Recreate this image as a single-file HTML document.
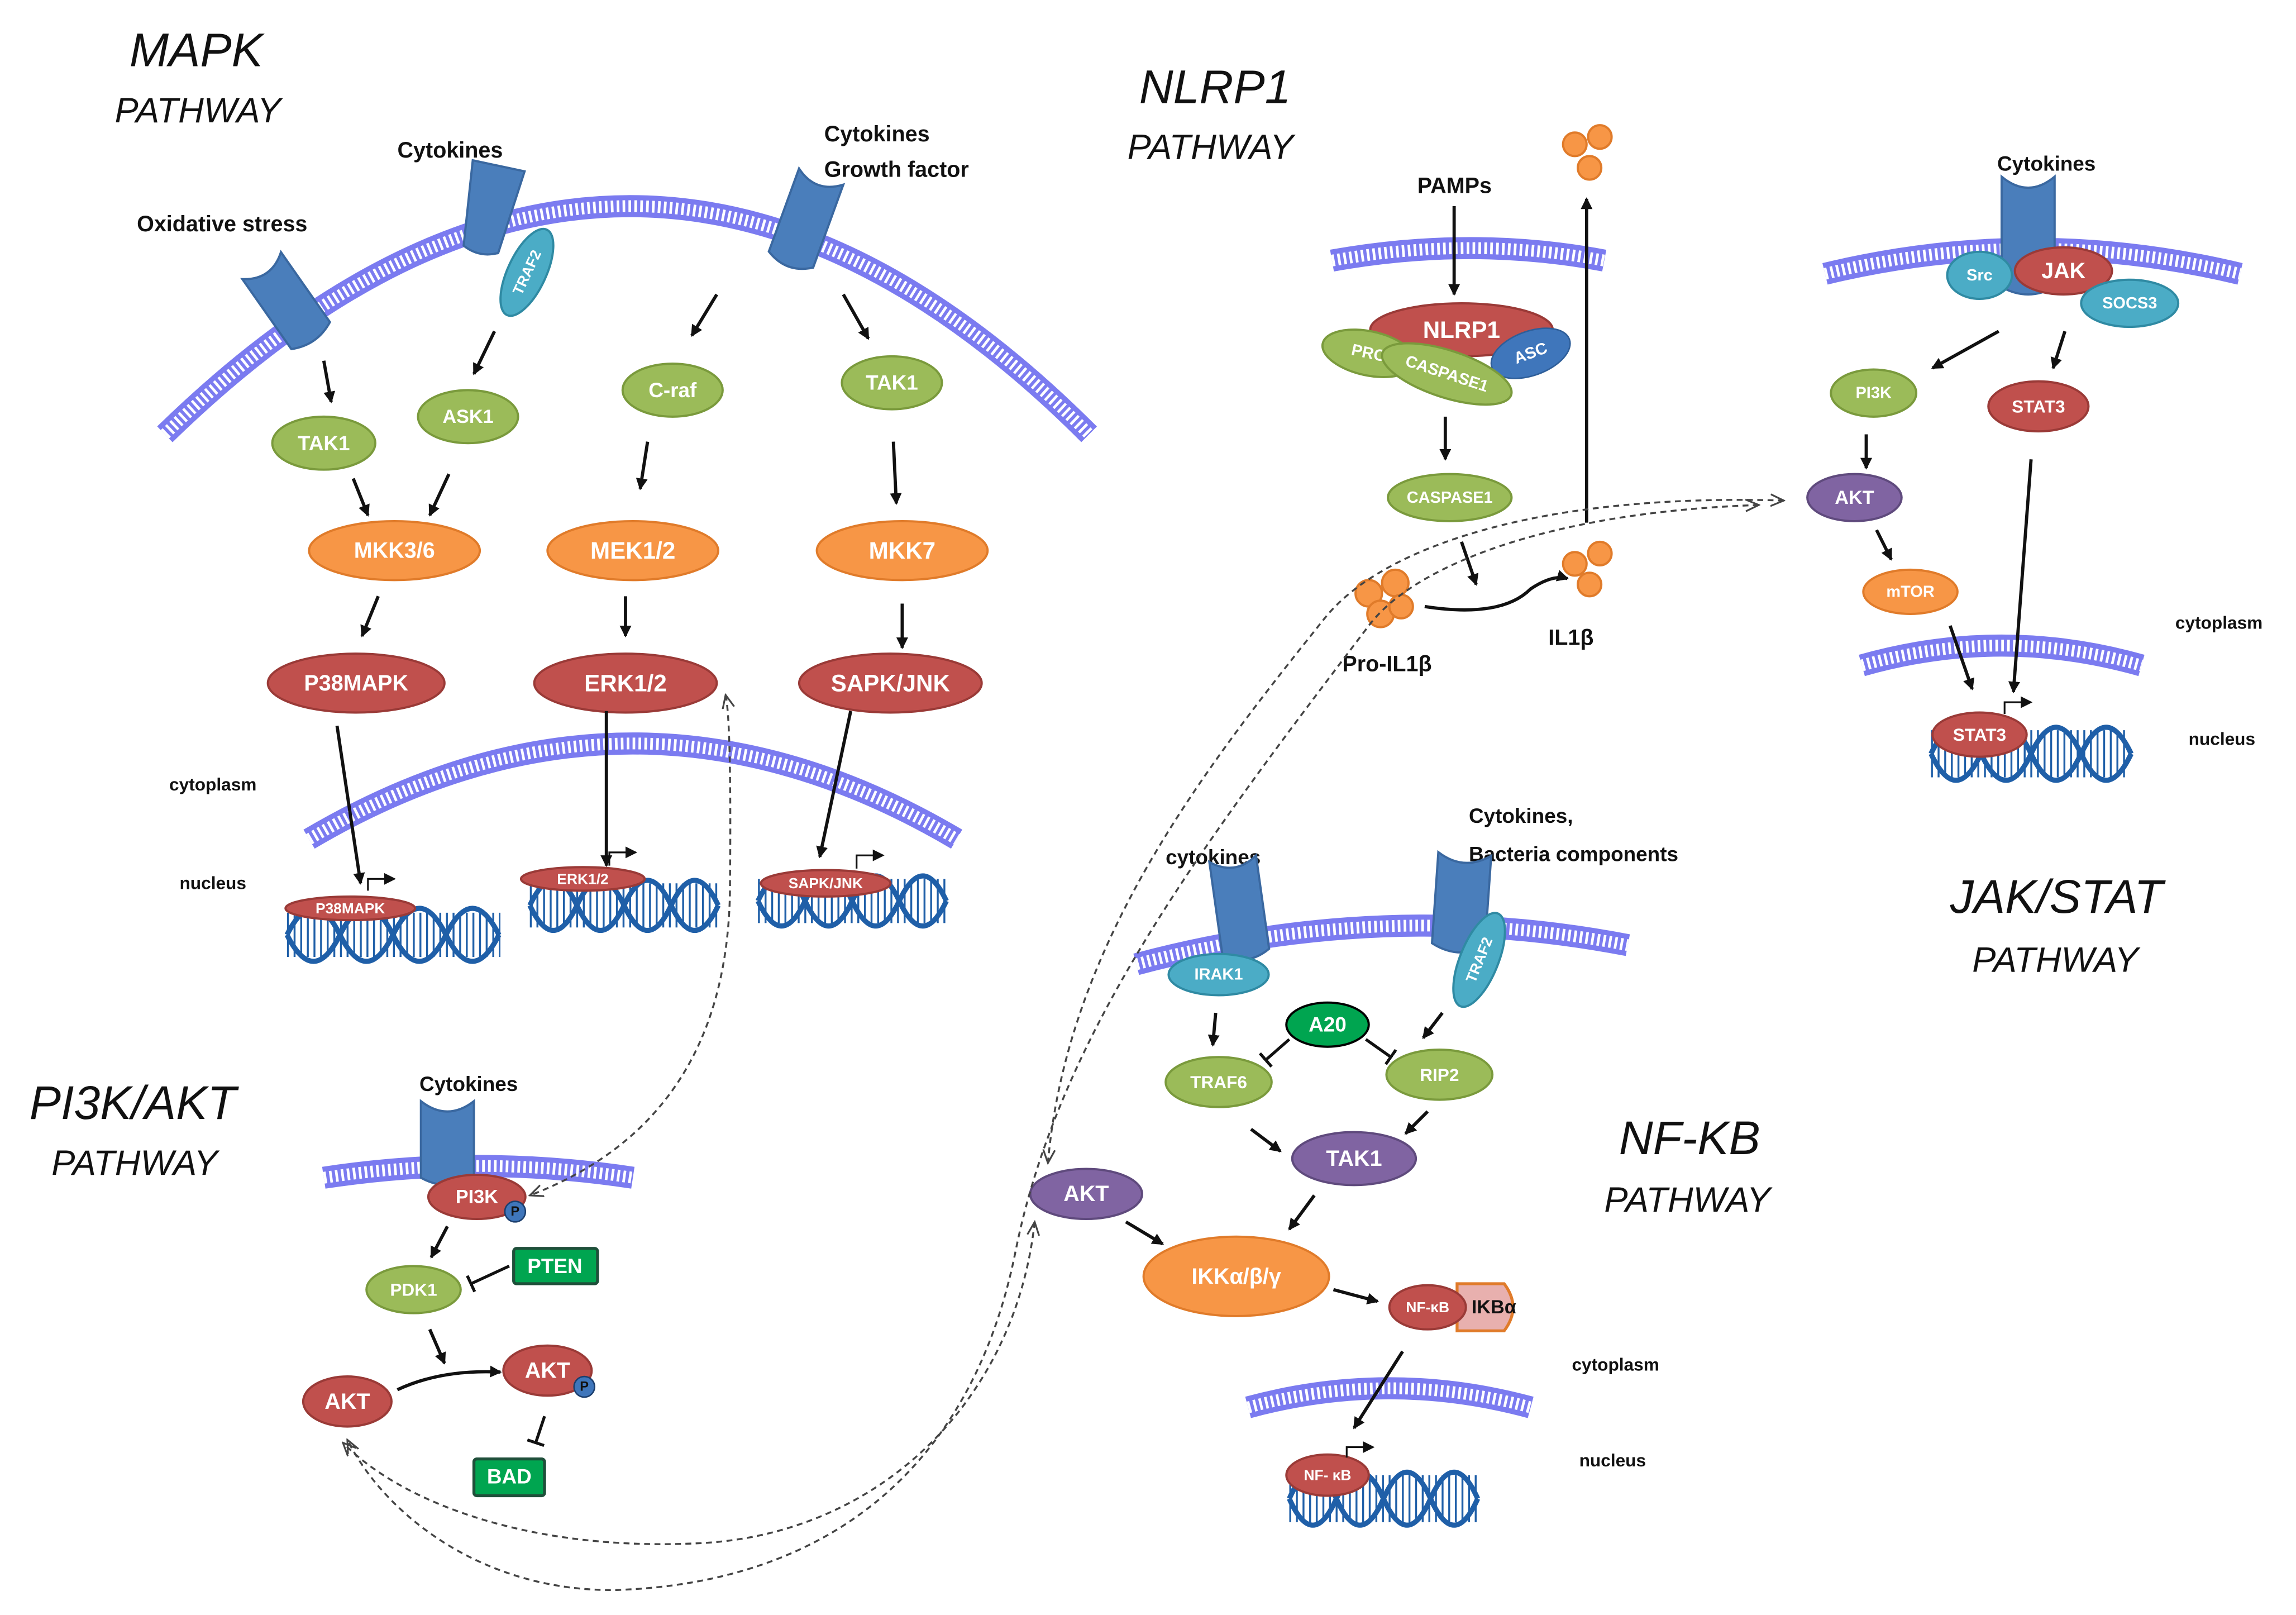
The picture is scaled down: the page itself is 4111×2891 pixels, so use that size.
<!DOCTYPE html>
<html><head><meta charset="utf-8"><style>
html,body{margin:0;padding:0;background:#fff;}
svg{display:block;}
text{font-family:"Liberation Sans",sans-serif;}
.t{font-style:italic;fill:#111;}
.n{fill:#fff;font-weight:bold;text-anchor:middle;dominant-baseline:central;}
.l{fill:#111;font-weight:bold;}
.mem{fill:none;stroke:#7b7bf0;stroke-width:15;}
.memw{fill:none;stroke:#fff;stroke-width:8;stroke-dasharray:1.8 2.2;}
.a{stroke:#111;stroke-width:2.2;fill:none;marker-end:url(#ar);}
.d{stroke:#444;stroke-width:1.3;fill:none;stroke-dasharray:4 3;marker-end:url(#oa);marker-start:url(#oa);}
.g{fill:#9bbb59;stroke:#7a9a3c;stroke-width:1.5;}
.o{fill:#f79646;stroke:#e07b2a;stroke-width:1.5;}
.r{fill:#c0504d;stroke:#9a3a37;stroke-width:1.5;}
.p{fill:#8064a2;stroke:#5f4a7d;stroke-width:1.5;}
.c{fill:#4bacc6;stroke:#2f8aa3;stroke-width:1.5;}
.b{fill:#4a7ebb;stroke:#3a68a0;stroke-width:1.5;}
.dna{fill:none;stroke:#1f5fa8;stroke-width:3.5;}
.hat{fill:none;stroke:#1f5fa8;stroke-dasharray:1.3 3.2;}
</style></head><body>
<svg width="4111" height="2891" viewBox="0 0 1560 1097" xmlns="http://www.w3.org/2000/svg">
<defs>
<marker id="ar" markerWidth="8" markerHeight="8" refX="7" refY="4" orient="auto" markerUnits="userSpaceOnUse"><path d="M0,0 L8,4 L0,8 Z" fill="#111"/></marker>
<marker id="oa" markerWidth="10" markerHeight="10" refX="9" refY="5" orient="auto-start-reverse" markerUnits="userSpaceOnUse"><path d="M0,1 L9,5 L0,9" fill="none" stroke="#444" stroke-width="1.2"/></marker>
<marker id="tb" markerWidth="2" markerHeight="12" refX="1" refY="6" orient="auto" markerUnits="userSpaceOnUse"><path d="M1,0 V12" stroke="#111" stroke-width="2.2"/></marker>
</defs>

<!-- titles -->
<text class="t" x="88" y="45" font-size="32">MAPK</text>
<text class="t" x="78" y="83" font-size="24">PATHWAY</text>
<text class="t" x="774" y="70" font-size="32">NLRP1</text>
<text class="t" x="766" y="108" font-size="24">PATHWAY</text>
<text class="t" x="20" y="760" font-size="32">PI3K/AKT</text>
<text class="t" x="35" y="798" font-size="24">PATHWAY</text>
<text class="t" x="1100" y="784" font-size="32">NF-KB</text>
<text class="t" x="1090" y="823" font-size="24">PATHWAY</text>
<text class="t" x="1325" y="620" font-size="32">JAK/STAT</text>
<text class="t" x="1340" y="660" font-size="24">PATHWAY</text>

<!-- membranes -->
<g>
<path class="mem" d="M112,295 Q430,-15 740,295"/><path class="memw" d="M112,295 Q430,-15 740,295"/>
<path class="mem" d="M210,570 Q430,440 650,570"/><path class="memw" d="M210,570 Q430,440 650,570"/>
<path class="mem" d="M905,177 Q1000,160 1090,177"/><path class="memw" d="M905,177 Q1000,160 1090,177"/>
<path class="mem" d="M1240,186 Q1380,152 1522,186"/><path class="memw" d="M1240,186 Q1380,152 1522,186"/>
<path class="mem" d="M1265,452 Q1360,425 1455,452"/><path class="memw" d="M1265,452 Q1360,425 1455,452"/>
<path class="mem" d="M772,655 Q940,610 1106,642"/><path class="memw" d="M772,655 Q940,610 1106,642"/>
<path class="mem" d="M848,956 Q944,930 1040,956"/><path class="memw" d="M848,956 Q944,930 1040,956"/>
<path class="mem" d="M220,800 Q325,784 430,800"/><path class="memw" d="M220,800 Q325,784 430,800"/>
</g>

<!-- MAPK receptors -->
<g transform="translate(195,205) rotate(-35)"><path class="b" d="M-16,-30 V28 Q0,36 16,28 V-30 Q0,-18 -16,-30 Z"/></g>
<g transform="translate(333,140) rotate(12)"><path class="b" d="M-18,-28 H18 L12,30 Q0,36 -12,30 Z"/></g>
<g transform="translate(358,185) rotate(-65)"><ellipse class="c" cx="0" cy="0" rx="32" ry="13"/><text class="n" font-size="10">TRAF2</text></g>
<g transform="translate(547,150) rotate(20)"><path class="b" d="M-16,-32 V28 Q0,38 16,28 V-32 Q0,-20 -16,-32 Z"/></g>
<text class="l" x="270" y="107" font-size="15">Cytokines</text>
<text class="l" x="93" y="157" font-size="15">Oxidative stress</text>
<text class="l" x="560" y="96" font-size="15">Cytokines</text>
<text class="l" x="560" y="120" font-size="15">Growth factor</text>

<!-- MAPK nodes -->
<ellipse class="g" cx="220" cy="301" rx="35" ry="18"/><text class="n" x="220" y="301" font-size="14">TAK1</text>
<ellipse class="g" cx="318" cy="283" rx="34" ry="18"/><text class="n" x="318" y="283" font-size="13">ASK1</text>
<ellipse class="g" cx="457" cy="265" rx="34" ry="18"/><text class="n" x="457" y="265" font-size="14">C-raf</text>
<ellipse class="g" cx="606" cy="260" rx="34" ry="18"/><text class="n" x="606" y="260" font-size="14">TAK1</text>
<ellipse class="o" cx="268" cy="374" rx="58" ry="20"/><text class="n" x="268" y="374" font-size="15">MKK3/6</text>
<ellipse class="o" cx="430" cy="374" rx="58" ry="20"/><text class="n" x="430" y="374" font-size="16">MEK1/2</text>
<ellipse class="o" cx="613" cy="374" rx="58" ry="20"/><text class="n" x="613" y="374" font-size="16">MKK7</text>
<ellipse class="r" cx="242" cy="464" rx="60" ry="20"/><text class="n" x="242" y="464" font-size="15">P38MAPK</text>
<ellipse class="r" cx="425" cy="464" rx="62" ry="20"/><text class="n" x="425" y="464" font-size="16">ERK1/2</text>
<ellipse class="r" cx="605" cy="464" rx="62" ry="20"/><text class="n" x="605" y="464" font-size="16">SAPK/JNK</text>
<path class="a" d="M220,245 L225,273"/>
<path class="a" d="M336,225 L322,254"/>
<path class="a" d="M487,200 L470,228"/>
<path class="a" d="M573,200 L590,230"/>
<path class="a" d="M240,325 L250,350"/>
<path class="a" d="M305,322 L292,350"/>
<path class="a" d="M440,300 L435,332"/>
<path class="a" d="M607,300 L609,342"/>
<path class="a" d="M257,405 L246,432"/>
<path class="a" d="M425,405 L425,432"/>
<path class="a" d="M613,410 L613,440"/>
<path class="a" d="M229,493 L245,600"/>
<path class="a" d="M412,483 L412,588"/>
<path class="a" d="M578,483 L557,582"/>
<text class="l" x="115" y="537" font-size="12">cytoplasm</text>
<text class="l" x="122" y="604" font-size="12">nucleus</text>

<!-- DNA MAPK -->
<g>
<path class="hat" style="stroke-width:30" d="M195,635 h145"/>
<path class="dna" d="M195,635 q18,-36 36,0 t36,0 t36,0 t36,0"/>
<path class="dna" d="M195,635 q18,36 36,0 t36,0 t36,0 t36,0"/>
<ellipse class="r" cx="238" cy="617" rx="44" ry="8"/><text class="n" x="238" y="617" font-size="10">P38MAPK</text>
<path d="M250,605 v-8 h18" stroke="#111" stroke-width="1.2" fill="none" marker-end="url(#ar)"/>
<path class="hat" style="stroke-width:30" d="M360,615 h130"/>
<path class="dna" d="M360,615 q16,-34 32,0 t32,0 t32,0 t32,0"/>
<path class="dna" d="M360,615 q16,34 32,0 t32,0 t32,0 t32,0"/>
<ellipse class="r" cx="396" cy="597" rx="42" ry="8"/><text class="n" x="396" y="597" font-size="10">ERK1/2</text>
<path d="M414,588 v-9 h18" stroke="#111" stroke-width="1.2" fill="none" marker-end="url(#ar)"/>
<path class="hat" style="stroke-width:30" d="M515,612 h128"/>
<path class="dna" d="M515,612 q16,-34 32,0 t32,0 t32,0 t32,0"/>
<path class="dna" d="M515,612 q16,34 32,0 t32,0 t32,0 t32,0"/>
<ellipse class="r" cx="561" cy="600" rx="44" ry="9"/><text class="n" x="561" y="600" font-size="10">SAPK/JNK</text>
<path d="M582,590 v-9 h18" stroke="#111" stroke-width="1.2" fill="none" marker-end="url(#ar)"/>
</g>

<!-- NLRP1 -->
<text class="l" x="963" y="131" font-size="15">PAMPs</text>
<path class="a" d="M988,140 L988,200"/>
<ellipse class="r" cx="993" cy="224" rx="62" ry="18"/><text class="n" x="993" y="224" font-size="16">NLRP1</text>
<g transform="translate(930,240) rotate(12)"><ellipse class="g" rx="32" ry="15"/><text class="n" font-size="11">PRO</text></g>
<g transform="translate(1040,240) rotate(-20)"><ellipse cx="0" cy="0" rx="28" ry="15" fill="#3f76bb" stroke="#2e5e99"/><text class="n" font-size="11">ASC</text></g>
<g transform="translate(983,254) rotate(18)"><ellipse class="g" rx="46" ry="16"/><text class="n" font-size="11">CASPASE1</text></g>
<path class="a" d="M982,283 L982,312"/>
<ellipse class="g" cx="985" cy="338" rx="42" ry="16"/><text class="n" x="985" y="338" font-size="11">CASPASE1</text>
<path class="a" d="M993,368 L1003,397"/>
<g class="o"><circle cx="930" cy="403" r="9"/><circle cx="948" cy="396" r="9"/><circle cx="938" cy="417" r="9"/><circle cx="952" cy="412" r="8"/></g>
<path class="a" d="M968,412 Q1020,420 1040,400 Q1055,390 1065,393"/>
<g class="o"><circle cx="1070" cy="383" r="8"/><circle cx="1087" cy="376" r="8"/><circle cx="1080" cy="397" r="8"/></g>
<text class="l" x="912" y="456" font-size="15">Pro-IL1β</text>
<text class="l" x="1052" y="438" font-size="15">IL1β</text>
<path class="a" d="M1078,355 L1078,135"/>
<g class="o"><circle cx="1070" cy="98" r="8"/><circle cx="1087" cy="93" r="8"/><circle cx="1080" cy="114" r="8"/></g>

<!-- JAK/STAT -->
<text class="l" x="1357" y="116" font-size="14">Cytokines</text>
<path class="b" d="M1360,120 V195 Q1378,205 1396,195 V120 Q1378,135 1360,120 Z"/>
<ellipse class="c" cx="1345" cy="187" rx="22" ry="16"/><text class="n" x="1345" y="187" font-size="11">Src</text>
<ellipse class="r" cx="1402" cy="184" rx="33" ry="16"/><text class="n" x="1402" y="184" font-size="15">JAK</text>
<ellipse class="c" cx="1447" cy="206" rx="33" ry="16"/><text class="n" x="1447" y="206" font-size="11">SOCS3</text>
<path class="a" d="M1358,225 L1313,250"/>
<path class="a" d="M1403,225 L1395,250"/>
<ellipse class="g" cx="1273" cy="267" rx="29" ry="16"/><text class="n" x="1273" y="267" font-size="11">PI3K</text>
<ellipse class="r" cx="1385" cy="276" rx="34" ry="17"/><text class="n" x="1385" y="276" font-size="12">STAT3</text>
<path class="a" d="M1268,295 L1268,318"/>
<ellipse class="p" cx="1260" cy="338" rx="32" ry="16"/><text class="n" x="1260" y="338" font-size="13">AKT</text>
<path class="a" d="M1275,360 L1285,380"/>
<ellipse class="o" cx="1298" cy="402" rx="32" ry="15"/><text class="n" x="1298" y="402" font-size="11">mTOR</text>
<path class="a" d="M1325,425 L1340,468"/>
<path class="a" d="M1380,312 L1368,470"/>
<text class="l" x="1478" y="427" font-size="12">cytoplasm</text>
<text class="l" x="1487" y="506" font-size="12">nucleus</text>
<path class="hat" style="stroke-width:32" d="M1312,512 h135"/>
<path class="dna" d="M1312,512 q17,-36 34,0 t34,0 t34,0 t34,0"/>
<path class="dna" d="M1312,512 q17,36 34,0 t34,0 t34,0 t34,0"/>
<ellipse class="r" cx="1345" cy="499" rx="32" ry="15"/><text class="n" x="1345" y="499" font-size="12">STAT3</text>
<path d="M1362,485 v-8 h18" stroke="#111" stroke-width="1.2" fill="none" marker-end="url(#ar)"/>

<!-- NF-KB -->
<text class="l" x="998" y="559" font-size="14">Cytokines,</text>
<text class="l" x="998" y="585" font-size="14">Bacteria components</text>
<text class="l" x="792" y="587" font-size="14">cytokines</text>
<g transform="translate(842,615) rotate(-8)"><path class="b" d="M-16,-32 V32 Q0,42 16,32 V-32 Q0,-20 -16,-32 Z"/></g>
<g transform="translate(993,612) rotate(4)"><path class="b" d="M-18,-32 V30 Q0,40 18,30 V-32 Q0,-20 -18,-32 Z"/></g>
<ellipse class="c" cx="828" cy="662" rx="34" ry="14"/><text class="n" x="828" y="662" font-size="11">IRAK1</text>
<g transform="translate(1005,652) rotate(-68)"><ellipse class="c" rx="34" ry="13"/><text class="n" font-size="10">TRAF2</text></g>
<ellipse cx="902" cy="696" rx="28" ry="15" fill="#00a550" stroke="#000" stroke-width="1.5"/><text class="n" x="902" y="696" font-size="14">A20</text>
<path class="a" d="M826,688 L824,710"/>
<path class="a" d="M980,688 L967,705"/>
<path d="M876,706 L860,720" stroke="#111" stroke-width="2" marker-end="url(#tb)"/>
<path d="M928,706 L945,718" stroke="#111" stroke-width="2" marker-end="url(#tb)"/>
<ellipse class="g" cx="828" cy="735" rx="36" ry="17"/><text class="n" x="828" y="735" font-size="12">TRAF6</text>
<ellipse class="g" cx="978" cy="730" rx="36" ry="17"/><text class="n" x="978" y="730" font-size="12">RIP2</text>
<path class="a" d="M850,767 L870,782"/>
<path class="a" d="M970,755 L955,770"/>
<ellipse class="p" cx="920" cy="787" rx="42" ry="18"/><text class="n" x="920" y="787" font-size="15">TAK1</text>
<ellipse class="p" cx="738" cy="811" rx="38" ry="17"/><text class="n" x="738" y="811" font-size="15">AKT</text>
<path class="a" d="M765,830 L790,845"/>
<path class="a" d="M893,812 L876,835"/>
<ellipse class="o" cx="840" cy="867" rx="63" ry="27"/><text class="n" x="840" y="867" font-size="15">IKKα/β/γ</text>
<path class="a" d="M906,876 L936,884"/>
<path d="M990,872 h32 q12,16 0,32 h-32 Z" fill="#e8b0ae" stroke="#e07b2a" stroke-width="2"/>
<text class="n" x="1015" y="888" font-size="13" style="fill:#111">IKBα</text>
<ellipse class="r" cx="970" cy="888" rx="26" ry="15"/><text class="n" x="970" y="888" font-size="10">NF-κB</text>
<path class="a" d="M953,918 L920,970"/>
<text class="l" x="1068" y="931" font-size="12">cytoplasm</text>
<text class="l" x="1073" y="996" font-size="12">nucleus</text>
<path class="hat" style="stroke-width:32" d="M876,1018 h128"/>
<path class="dna" d="M876,1018 q16,-36 32,0 t32,0 t32,0 t32,0"/>
<path class="dna" d="M876,1018 q16,36 32,0 t32,0 t32,0 t32,0"/>
<ellipse class="r" cx="902" cy="1002" rx="28" ry="14"/><text class="n" x="902" y="1002" font-size="10">NF- κB</text>
<path d="M915,990 v-7 h18" stroke="#111" stroke-width="1.2" fill="none" marker-end="url(#ar)"/>

<!-- PI3K/AKT -->
<text class="l" x="285" y="741" font-size="14">Cytokines</text>
<path class="b" d="M286,748 V800 Q304,810 322,800 V748 Q304,762 286,748 Z"/>
<ellipse class="r" cx="324" cy="813" rx="33" ry="15"/><text class="n" x="324" y="813" font-size="13">PI3K</text>
<circle cx="350" cy="823" r="7" fill="#3f76bb" stroke="#1c3f6e"/><text class="n" x="350" y="823" font-size="9" style="fill:#111">P</text>
<path class="a" d="M304,833 L293,854"/>
<ellipse class="g" cx="281" cy="876" rx="32" ry="16"/><text class="n" x="281" y="876" font-size="12">PDK1</text>
<rect x="349" y="848" width="57" height="24" rx="2" fill="#00a550" stroke="#1f4f3a" stroke-width="2"/><text class="n" x="377" y="860" font-size="14">PTEN</text>
<path d="M346,860 L320,872" stroke="#111" stroke-width="2" marker-end="url(#tb)"/>
<path class="a" d="M292,903 L302,926"/>
<ellipse class="r" cx="236" cy="952" rx="30" ry="17"/><text class="n" x="236" y="952" font-size="15">AKT</text>
<path class="a" d="M270,944 Q300,930 340,932"/>
<ellipse class="r" cx="372" cy="931" rx="30" ry="17"/><text class="n" x="372" y="931" font-size="15">AKT</text>
<circle cx="397" cy="942" r="7" fill="#3f76bb" stroke="#1c3f6e"/><text class="n" x="397" y="942" font-size="9" style="fill:#111">P</text>
<path d="M370,962 L364,980" stroke="#111" stroke-width="2" marker-end="url(#tb)"/>
<rect x="322" y="991" width="48" height="25" rx="2" fill="#00a550" stroke="#1f4f3a" stroke-width="2"/><text class="n" x="346" y="1003" font-size="14">BAD</text>

<!-- dashed cross-talk -->
<path class="d" d="M493,472 Q497,490 496,600 Q496,760 360,812"/>
<path class="d" d="M1212,340 C1050,335 940,370 900,420 C820,520 725,640 712,790"/>
<path class="d" d="M1195,343 C1050,348 960,385 930,425 C820,570 720,700 690,850 C660,1000 560,1075 420,1080 C330,1082 262,1030 236,978"/>
<path class="d" d="M703,830 C690,950 600,1040 480,1048 C360,1055 272,1020 233,980"/>
</svg>
</body></html>
